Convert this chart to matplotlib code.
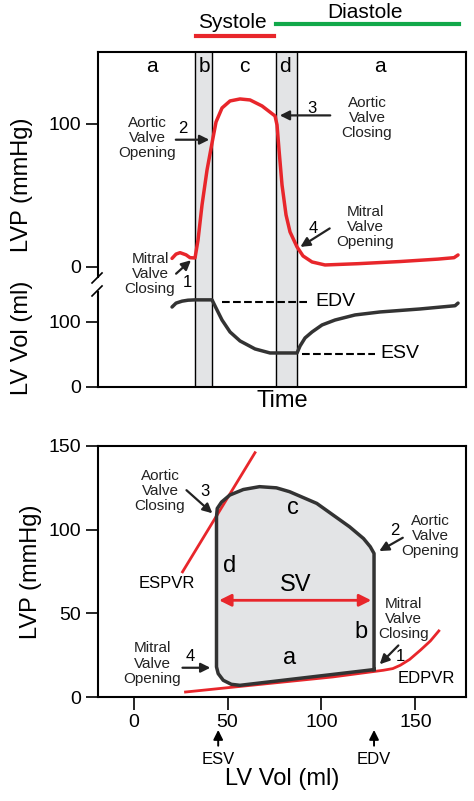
import matplotlib
matplotlib.use('Agg')
import matplotlib.pyplot as plt

plt.rcParams['font.family'] = ['Liberation Sans', 'DejaVu Sans']

# 上图：时间轴（任意单位），压力 mmHg，容积 ml
t_lvp = [74, 78, 82, 88, 92, 97, 100, 104, 109, 114, 118, 124, 132, 142, 152, 164, 177, 179, 181, 184, 188,
         192, 199, 205, 214, 227, 260, 302, 340, 356, 360]
lvp = [6, 9, 10, 8.5, 6.5, 6.3, 18.9, 43.4, 67.8, 86.7, 101.4, 111.2, 116.1, 117.5, 116.8, 112.6, 105.6, 99.3,
       81.8, 57.3, 36.4, 24.5, 14, 7.7, 3.5, 1.4, 2.3, 3.8, 5.5, 6.5, 8.4]
t_vol = [74, 78, 84, 90, 97, 114, 118, 124, 132, 142, 157, 172, 199, 202, 207, 214, 224, 237, 257, 282, 322,
         357, 360]
vol = [123, 129, 132, 133.5, 134, 134, 121.5, 103, 84.6, 70.8, 58.5, 52.3, 52.3, 63, 75.4, 84.6, 95.4, 103,
       110.8, 115.4, 120, 125, 129]
edv_val, esv_val = 131, 51
phase_labels = ['a', 'b', 'c', 'd', 'a']
phase_t = [54, 106, 146, 187, 282]

# 下图：压力-容积环
loop_v = [128, 128, 126, 122.4, 115, 97.5, 83, 76, 67, 58.4, 51.2, 46.8, 44.5, 44.1, 44.1, 45, 47.7, 52, 56.6, 128]
loop_p = [16.4, 85.8, 89.8, 94.7, 101.7, 115.7, 122.7, 125, 125.7, 124, 120.7, 116.5, 112.7, 107.7, 18, 14, 10,
          7.6, 7, 16.4]
espvr_v = [26, 64.6]
espvr_p = [74.8, 146]
edpvr_v = [27.6, 106, 133, 138, 142, 147, 152.7, 158, 162.5]
edpvr_p = [3, 12, 16, 17, 19, 22.5, 28, 33.5, 39.5]
esv_ml, edv_ml, sv_p = 44, 128, 57.8

RED = '#e8262b'
GREEN = '#11a84a'
DARK = '#333333'

fig = plt.figure(figsize=(4.74, 8.01), dpi=100)

# ---------- 上图 ----------
ax = fig.add_axes([0.2068, 0.5169, 0.7764, 0.4182])
ax.set_xlim(0, 368)
ax.set_ylim(0, 335)
p2y = lambda p: 120 + p * 1.43
v2y = lambda v: v * 0.65

for a, b in [(97, 114), (178, 199)]:
    ax.axvspan(a, b, color='#e3e4e6', zorder=0)
    ax.axvline(a, color='k', lw=1)
    ax.axvline(b, color='k', lw=1)
for lab, tt in zip(phase_labels, phase_t):
    ax.text(tt, 320, lab, ha='center', va='center', fontsize=15)

ax.plot(t_lvp, [p2y(p) for p in lvp], color=RED, lw=2.5, solid_capstyle='round', solid_joinstyle='round')
ax.plot(t_vol, [v2y(v) for v in vol], color=DARK, lw=2.5, solid_capstyle='round', solid_joinstyle='round')
ax.plot([124, 212], [v2y(edv_val)] * 2, 'k--', lw=1.5)
ax.plot([204, 277], [v2y(esv_val)] * 2, 'k--', lw=1.5)
ax.text(217, v2y(edv_val), 'EDV', va='center', fontsize=14)
ax.text(282, v2y(esv_val), 'ESV', va='center', fontsize=14)

ax.set_yticks([v2y(0), v2y(100), p2y(0), p2y(100)])
ax.set_yticklabels(['0', '100', '0', '100'], fontsize=14)
ax.set_xticks([])
ax.tick_params(axis='y', direction='out', length=9, width=1.2)
for s in ['top', 'right', 'bottom']:
    ax.spines[s].set_linewidth(1.5)
ax.spines['left'].set_visible(False)
ax.plot([0, 0], [0, 95], color='k', lw=1.5, clip_on=False)
ax.plot([0, 0], [110, 335], color='k', lw=1.5, clip_on=False)
ax.plot([-6, 4], [91, 101], color='k', lw=1.2, clip_on=False)
ax.plot([-6, 4], [104, 114], color='k', lw=1.2, clip_on=False)

ann = dict(fontsize=11, ha='center', va='center', linespacing=1.1, color='#222222')
arr = dict(arrowstyle='-|>', color='#222222', lw=1.6, mutation_scale=14)
ax.annotate('', xy=(114, p2y(89)), xytext=(75, p2y(89)), arrowprops=arr)
ax.text(49, p2y(90), 'Aortic\nValve\nOpening', **ann)
ax.text(85, p2y(97), '2', fontsize=12, ha='center', va='center')
ax.annotate('', xy=(179, p2y(106)), xytext=(235, p2y(106)), arrowprops=arr)
ax.text(269, p2y(104), 'Aortic\nValve\nClosing', **ann)
ax.text(214, p2y(111), '3', fontsize=12, ha='center', va='center')
ax.annotate('', xy=(200, p2y(13)), xytext=(234, p2y(28)), arrowprops=arr)
ax.text(267, p2y(28), 'Mitral\nValve\nOpening', **ann)
ax.text(215, p2y(27), '4', fontsize=12, ha='center', va='center')
ax.annotate('', xy=(95, p2y(6)), xytext=(76, p2y(-6)), arrowprops=arr)
ax.text(52, p2y(-5), 'Mitral\nValve\nClosing', **ann)
ax.text(89, p2y(-11), '1', fontsize=12, ha='center', va='center')

ax.set_xlabel('Time', fontsize=17, labelpad=2)
fig.text(0.046, 1 - 185 / 801, 'LVP (mmHg)', rotation=90, ha='center', va='center', fontsize=17)
fig.text(0.046, 1 - 338 / 801, 'LV Vol (ml)', rotation=90, ha='center', va='center', fontsize=17)

fig.text(232 / 474, 1 - 22 / 801, 'Systole', ha='center', va='center', fontsize=15)
fig.text(365 / 474, 1 - 12 / 801, 'Diastole', ha='center', va='center', fontsize=15)
fig.add_artist(plt.Line2D([196 / 474, 274 / 474], [1 - 36 / 801] * 2, color=RED, lw=3))
fig.add_artist(plt.Line2D([276 / 474, 459 / 474], [1 - 24 / 801] * 2, color=GREEN, lw=3))

# ---------- 下图 ----------
bx = fig.add_axes([0.2068, 0.1298, 0.7764, 0.3134])
bx.set_xlim(-19, 177)
bx.set_ylim(0, 150)
bx.fill(loop_v, loop_p, color='#e3e4e6', zorder=1)
bx.plot(loop_v, loop_p, color=DARK, lw=2.5, zorder=3, solid_joinstyle='round')
bx.plot(espvr_v, espvr_p, color=RED, lw=2, zorder=2)
bx.plot(edpvr_v, edpvr_p, color=RED, lw=2, zorder=2)
bx.annotate('', xy=(esv_ml, sv_p), xytext=(edv_ml, sv_p),
            arrowprops=dict(arrowstyle='<|-|>', color=RED, lw=2, mutation_scale=18))
for lab, xx, yy in [('c', 85, 113), ('d', 51, 78), ('SV', 86, 67), ('b', 121, 39), ('a', 83, 23.5)]:
    bx.text(xx, yy, lab, ha='center', va='center', fontsize=17)
bx.text(17.4, 68, 'ESPVR', ha='center', va='center', fontsize=12)
bx.text(156, 11, 'EDPVR', ha='center', va='center', fontsize=12)

bx.text(14, 123, 'Aortic\nValve\nClosing', **ann)
bx.text(38, 122.7, '3', fontsize=12, ha='center', va='center')
bx.annotate('', xy=(43, 108.7), xytext=(27, 124.7), arrowprops=arr)
bx.text(158, 96, 'Aortic\nValve\nOpening', **ann)
bx.text(139, 99.7, '2', fontsize=12, ha='center', va='center')
bx.annotate('', xy=(129.5, 86.4), xytext=(144.6, 96), arrowprops=arr)
bx.text(143.5, 46.7, 'Mitral\nValve\nClosing', **ann)
bx.text(142, 24, '1', fontsize=12, ha='center', va='center')
bx.annotate('', xy=(130, 18.4), xytext=(142, 32), arrowprops=arr)
bx.text(10, 20, 'Mitral\nValve\nOpening', **ann)
bx.text(30, 24, '4', fontsize=12, ha='center', va='center')
bx.annotate('', xy=(42.3, 17.5), xytext=(24.5, 17.5), arrowprops=arr)

tr = bx.get_xaxis_transform()
for xx, lab in [(esv_ml + 1, 'ESV'), (edv_ml, 'EDV')]:
    bx.annotate('', xy=(xx, -0.12), xytext=(xx, -0.205), xycoords=tr, textcoords=tr,
                arrowprops=dict(arrowstyle='-|>', color='k', lw=1.4, mutation_scale=14),
                annotation_clip=False)
    bx.text(xx, -0.25, lab, transform=tr, ha='center', va='center', fontsize=12)

bx.set_xticks([0, 50, 100, 150])
bx.set_yticks([0, 50, 100, 150])
bx.tick_params(labelsize=14, direction='out', length=9, width=1.2)
for s in bx.spines.values():
    s.set_linewidth(1.5)
bx.set_xlabel('LV Vol (ml)', fontsize=17, labelpad=26)
bx.set_ylabel('LVP (mmHg)', fontsize=17, labelpad=4)

fig.savefig('out.png', dpi=100)
